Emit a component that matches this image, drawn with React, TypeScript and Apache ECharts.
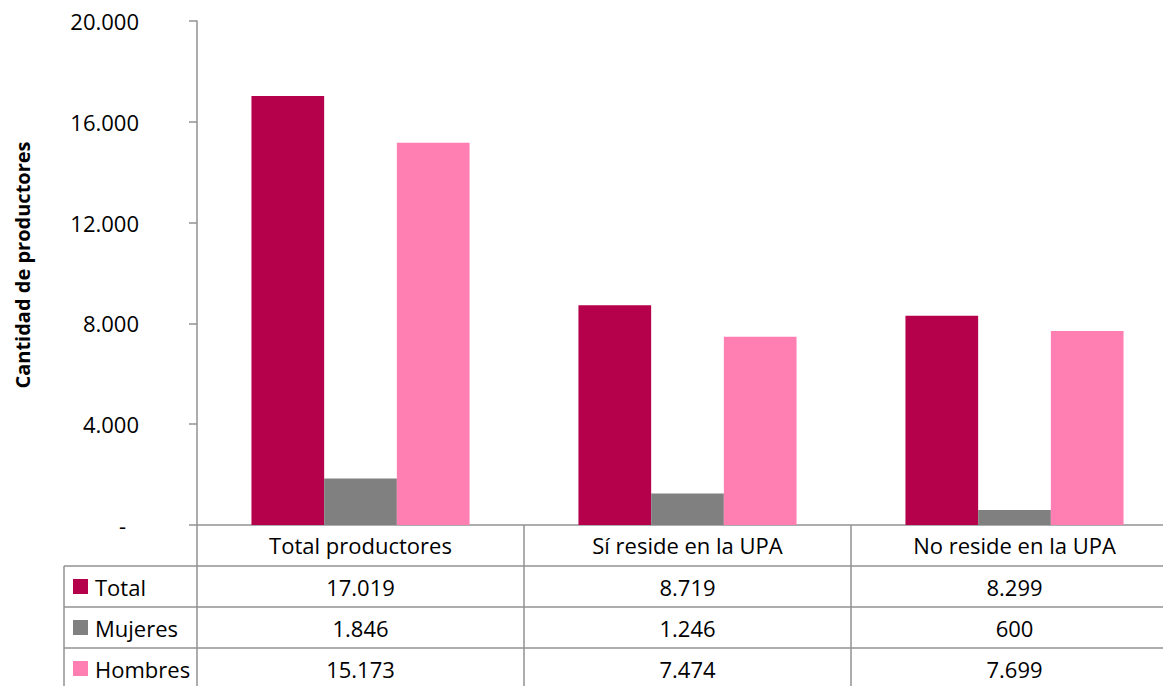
import React, { useEffect, useRef } from "react";
import * as echarts from "echarts";

const categories = ["Total productores", "Sí reside en la UPA", "No reside en la UPA"];
const seriesNames = ["Total", "Mujeres", "Hombres"];
const totalValues = [17019, 8719, 8299];
const mujeresValues = [1846, 1246, 600];
const hombresValues = [15173, 7474, 7699];
const seriesColors = ["#B5004B", "#808080", "#FF7FB3"];
const yMin = 0;
const yMax = 20000;
const yInterval = 4000;
const yTitle = "Cantidad de productores";

const FONT = "'Open Sans', 'Noto Sans', sans-serif";
const FS = 22;
const LINE = "#929292";

const fmt = (n: number) => String(n).replace(/\B(?=(\d{3})+(?!\d))/g, ".");

export default function App() {
  const ref = useRef<HTMLDivElement>(null);
  useEffect(() => {
    if (!ref.current) return;
    const chart = echarts.init(ref.current, undefined, { renderer: "svg" });
    const allValues = [totalValues, mujeresValues, hombresValues];
    chart.setOption({
      animation: false,
      textStyle: { fontFamily: FONT },
      grid: { left: 197, right: 2, top: 21, bottom: 161 },
      xAxis: {
        type: "category",
        data: categories,
        axisLine: { show: true, lineStyle: { color: LINE, width: 1.5 } },
        axisTick: { show: false },
        axisLabel: {
          color: "#000",
          fontSize: FS,
          fontFamily: FONT,
          margin: 20,
          verticalAlign: "middle",
          interval: 0,
        },
      },
      yAxis: {
        type: "value",
        min: yMin,
        max: yMax,
        interval: yInterval,
        name: yTitle,
        nameLocation: "middle",
        nameGap: 165,
        nameTextStyle: {
          color: "#000",
          fontSize: 20,
          fontWeight: "bold",
          fontFamily: FONT,
          padding: [0, 0, 0, 16],
        },
        splitLine: { show: false },
        axisLine: { show: true, lineStyle: { color: LINE, width: 1.5 } },
        axisTick: { show: true, inside: false, length: 8, lineStyle: { color: LINE, width: 1.5 } },
        axisLabel: {
          color: "#000",
          fontSize: FS,
          fontFamily: FONT,
          margin: 58,
          formatter: (v: number) => (v === 0 ? "{d|-}" : fmt(v)),
          rich: { d: { fontSize: FS, fontFamily: FONT, color: "#000", padding: [0, 13, 0, 0] } },
        },
      },
      series: seriesNames.map((name, i) => ({
        name,
        type: "bar",
        data: allValues[i],
        barGap: "0%",
        barCategoryGap: "33.3%",
        itemStyle: { color: seriesColors[i] },
      })),
    });

    const centers = categories.map((_, i) => chart.convertToPixel({ xAxisIndex: 0 }, i) as number);
    const band = centers[1] - centers[0];
    const yZero = chart.convertToPixel({ yAxisIndex: 0 }, 0) as number;
    const rowH = 41;
    const tableLeft = 64;
    const farRight = 1200;
    const bottom = 700;
    const graphics: any[] = [];
    for (let k = 1; k <= 3; k++) {
      graphics.push({
        type: "line",
        shape: { x1: tableLeft, y1: yZero + rowH * k, x2: farRight, y2: yZero + rowH * k },
        style: { stroke: LINE, lineWidth: 1.5 },
      });
    }
    graphics.push({
      type: "line",
      shape: { x1: tableLeft, y1: yZero + rowH, x2: tableLeft, y2: bottom },
      style: { stroke: LINE, lineWidth: 1.5 },
    });
    for (let i = 0; i <= categories.length; i++) {
      const x = centers[0] - band / 2 + band * i;
      graphics.push({
        type: "line",
        shape: { x1: x, y1: yZero, x2: x, y2: bottom },
        style: { stroke: LINE, lineWidth: 1.5 },
      });
    }
    seriesNames.forEach((name, r) => {
      const cy = yZero + rowH * (r + 1) + rowH / 2;
      graphics.push({
        type: "rect",
        shape: { x: 73, y: cy - 7.5, width: 15, height: 15 },
        style: { fill: seriesColors[r] },
      });
      graphics.push({
        type: "text",
        x: 95,
        y: cy,
        style: { text: name, fill: "#000", font: `${FS}px ${FONT}`, textAlign: "left", textVerticalAlign: "middle" },
      });
      allValues[r].forEach((v, c) => {
        graphics.push({
          type: "text",
          x: centers[c],
          y: cy,
          style: { text: fmt(v), fill: "#000", font: `${FS}px ${FONT}`, textAlign: "center", textVerticalAlign: "middle" },
        });
      });
    });
    chart.setOption({ graphic: graphics });
    return () => chart.dispose();
  }, []);
  return (
    <div style={{ position: "fixed", left: 0, top: 0, width: 1163, height: 686, overflow: "hidden", background: "#fff" }}>
      <div ref={ref} style={{ width: 1180, height: 686 }} />
    </div>
  );
}
